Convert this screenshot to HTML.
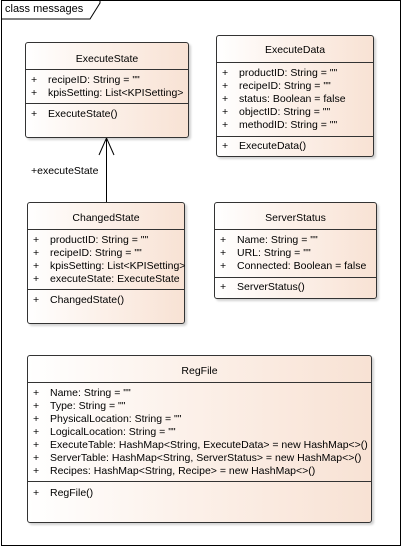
<!DOCTYPE html>
<html><head><meta charset="utf-8"><style>
body{margin:0;width:402px;height:548px;background:#fff;position:relative;overflow:hidden;font-family:"Liberation Sans",sans-serif;font-size:10.5px;color:#000}
.frame{position:absolute;left:1px;top:0;width:398px;height:544px;border:1px solid #000}
.box{position:absolute;border:1px solid #333;border-radius:3px;background:linear-gradient(to right,#fff 0%,#fcf1ea 45%,#f8e2d4 100%);box-shadow:2px 2px 2px rgba(0,0,0,0.18);box-sizing:border-box}
.t{position:absolute;white-space:nowrap;line-height:13px}
.hl{position:absolute;left:0;right:0;height:0;border-top:1px solid #333}
.title{position:absolute;left:0;right:0;text-align:center;line-height:13px}
</style></head><body>
<div class="frame"></div>
<svg style="position:absolute;left:0;top:0" width="402" height="548">
<polyline points="1,19 90,19 100,3 100,0" fill="none" stroke="#000" stroke-width="1"/>
<line x1="106.5" y1="202" x2="106.5" y2="138" stroke="#000"/>
<polyline points="99,155 106.5,138 114,155" fill="none" stroke="#000"/>
</svg>
<div class="t" style="left:5px;top:3px;font-size:11px">class messages</div>
<div class="t" style="left:31px;top:165px">+executeState</div>

<!-- ExecuteState -->
<div class="box" style="left:25px;top:42px;width:164px;height:96px">
<div class="title" style="top:10px">ExecuteState</div>
<div class="hl" style="top:26px"></div>
<div class="t" style="left:5px;top:31px">+</div><div class="t" style="left:22px;top:31px">recipeID: String = ""</div>
<div class="t" style="left:5px;top:44px">+</div><div class="t" style="left:22px;top:44px">kpisSetting: List&lt;KPISetting&gt;</div>
<div class="hl" style="top:60px"></div>
<div class="t" style="left:5px;top:65px">+</div><div class="t" style="left:22px;top:65px">ExecuteState()</div>
</div>

<!-- ExecuteData -->
<div class="box" style="left:216px;top:35px;width:158px;height:122px">
<div class="title" style="top:8px">ExecuteData</div>
<div class="hl" style="top:26px"></div>
<div class="t" style="left:5px;top:31px">+</div><div class="t" style="left:22px;top:31px">productID: String = ""</div>
<div class="t" style="left:5px;top:44px">+</div><div class="t" style="left:22px;top:44px">recipeID: String = ""</div>
<div class="t" style="left:5px;top:57px">+</div><div class="t" style="left:22px;top:57px">status: Boolean = false</div>
<div class="t" style="left:5px;top:70px">+</div><div class="t" style="left:22px;top:70px">objectID: String = ""</div>
<div class="t" style="left:5px;top:83px">+</div><div class="t" style="left:22px;top:83px">methodID: String = ""</div>
<div class="hl" style="top:100px"></div>
<div class="t" style="left:5px;top:104px">+</div><div class="t" style="left:22px;top:104px">ExecuteData()</div>
</div>

<!-- ChangedState -->
<div class="box" style="left:27px;top:202px;width:158px;height:122px">
<div class="title" style="top:9px">ChangedState</div>
<div class="hl" style="top:26px"></div>
<div class="t" style="left:5px;top:31px">+</div><div class="t" style="left:22px;top:31px">productID: String = ""</div>
<div class="t" style="left:5px;top:44px">+</div><div class="t" style="left:22px;top:44px">recipeID: String = ""</div>
<div class="t" style="left:5px;top:57px">+</div><div class="t" style="left:22px;top:57px">kpisSetting: List&lt;KPISetting&gt;</div>
<div class="t" style="left:5px;top:70px">+</div><div class="t" style="left:22px;top:70px">executeState: ExecuteState</div>
<div class="hl" style="top:86px"></div>
<div class="t" style="left:5px;top:91px">+</div><div class="t" style="left:22px;top:91px">ChangedState()</div>
</div>

<!-- ServerStatus -->
<div class="box" style="left:214px;top:202px;width:163px;height:97px">
<div class="title" style="top:9px">ServerStatus</div>
<div class="hl" style="top:26px"></div>
<div class="t" style="left:5px;top:31px">+</div><div class="t" style="left:22px;top:31px">Name: String = ""</div>
<div class="t" style="left:5px;top:44px">+</div><div class="t" style="left:22px;top:44px">URL: String = ""</div>
<div class="t" style="left:5px;top:57px">+</div><div class="t" style="left:22px;top:57px">Connected: Boolean = false</div>
<div class="hl" style="top:74px"></div>
<div class="t" style="left:5px;top:78px">+</div><div class="t" style="left:22px;top:78px">ServerStatus()</div>
</div>

<!-- RegFile -->
<div class="box" style="left:27px;top:355px;width:345px;height:168px">
<div class="title" style="top:9px">RegFile</div>
<div class="hl" style="top:26px"></div>
<div class="t" style="left:5px;top:31px">+</div><div class="t" style="left:22px;top:31px">Name: String = ""</div>
<div class="t" style="left:5px;top:44px">+</div><div class="t" style="left:22px;top:44px">Type: String = ""</div>
<div class="t" style="left:5px;top:57px">+</div><div class="t" style="left:22px;top:57px">PhysicalLocation: String = ""</div>
<div class="t" style="left:5px;top:70px">+</div><div class="t" style="left:22px;top:70px">LogicalLocation: String = ""</div>
<div class="t" style="left:5px;top:83px">+</div><div class="t" style="left:22px;top:83px">ExecuteTable: HashMap&lt;String, ExecuteData&gt; = new HashMap&lt;&gt;()</div>
<div class="t" style="left:5px;top:96px">+</div><div class="t" style="left:22px;top:96px">ServerTable: HashMap&lt;String, ServerStatus&gt; = new HashMap&lt;&gt;()</div>
<div class="t" style="left:5px;top:109px">+</div><div class="t" style="left:22px;top:109px">Recipes: HashMap&lt;String, Recipe&gt; = new HashMap&lt;&gt;()</div>
<div class="hl" style="top:125px"></div>
<div class="t" style="left:5px;top:131px">+</div><div class="t" style="left:22px;top:131px">RegFile()</div>
</div>
</body></html>
